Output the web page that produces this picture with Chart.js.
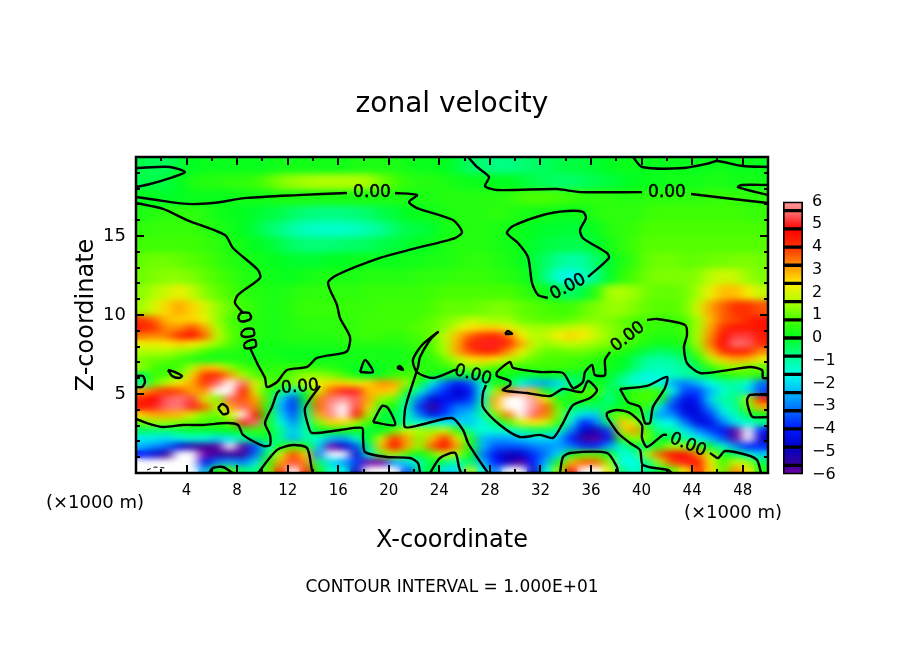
<!DOCTYPE html>
<html><head><meta charset="utf-8">
<style>html,body{margin:0;padding:0;background:#fff;width:904px;height:654px;overflow:hidden}
canvas{position:absolute}</style>
<script src="https://cdn.jsdelivr.net/npm/chart.js@4"></script></head>
<body>
<svg width="0" height="0" style="position:absolute"><filter id="soft" x="0" y="0" width="100%" height="100%" color-interpolation-filters="sRGB"><feGaussianBlur stdDeviation="5.5 3" edgeMode="duplicate"/></filter></svg>
<canvas id="main" width="904" height="654" style="left:0;top:0;width:904px;height:654px"></canvas>
<canvas id="bar" width="80" height="310" style="left:770px;top:183px;width:80px;height:310px"></canvas>
<script>
const FONT='"DejaVu Sans"';
const title='zonal velocity', xTitle='X-coordinate', yTitle='Z-coordinate', note='CONTOUR INTERVAL = 1.000E+01', unit='(×1000 m)';
const xCategories=[...Array(50).keys()];
const xMajor=[4,8,12,16,20,24,28,32,36,40,44,48];
const yMajor=[5,10,15];
const rowTops=[20,19,18,17,16,15,14,13,12,11,10,9.5,9,8.5,8,7.5,7,6.5,6,5.5,5,4.5,4,3.5,3,2.5,2,1.5,1,.5];
const rowBottoms=[19,18,17,16,15,14,13,12,11,10,9.5,9,8.5,8,7.5,7,6.5,6,5.5,5,4.5,4,3.5,3,2.5,2,1.5,1,.5,0];
const r195=[-.3,-.4,-.4,-.2,0,.1,.1,.1,.1,.1, .1,.2,.2,.2,.2,.2,.2,.3,.3,.3, .3,.2,.1,.1,0,-.2,-.5,-.6,-.7,-.7, -.6,-.5,-.4,-.3,-.2,-.2,-.1,0,.1,.1, .1,.1,.1,.1,.1,.1,.2,.1,.1,.1];
const r185=[-.3,-.3,-.2,0,.3,.4,.4,.5,.5,.6, .9,1.2,1.4,1.5,1.6,1.6,1.6,1.6,1.5,1.1, .8,.5,.4,.4,.3,.2,.1,.1,0,0, -.1,-.3,-.4,-.5,-.5,-.4,-.3,-.2,-.1,0, .1,.1,.2,.2,.2,.3,.3,.2,.2,.2];
const r175=[0,0,-.1,0,.1,.1,.1,.1,.2,.2, .2,.3,.3,.3,.3,.3,.3,.3,.3,.3, .3,.3,.3,.3,.4,.4,.4,.4,.4,.5, .7,.8,.8,.7,.6,.5,.5,.5,.4,.4, .5,.5,.5,.5,.5,.6,.6,.6,.5,.5];
const r165=[.3,.4,.5,.5,.5,.4,.2,.1,0,-.1, -.2,-.3,-.5,-.6,-.7,-.7,-.7,-.6,-.5,-.3, -.2,0,.1,.2,.3,.4,.4,.4,.5,.4, .3,.2,.2,.1,.1,.2,.4,.5,.5,.5, .6,.7,.7,.7,.7,.7,.7,.7,.6,.6];
const r155=[.5,.6,.6,.6,.6,.5,.3,.2,0,-.2, -.5,-.7,-1,-1.2,-1.3,-1.3,-1.3,-1.2,-1,-.8, -.5,-.3,-.2,-.1,.2,.3,.4,.4,.3,.2, .1,0,-.1,-.1,-.2,-.1,.1,.4,.5,.6, .8,.8,.8,.8,.8,.8,.8,.8,.8,.8];
const r145=[.7,.7,.7,.7,.7,.6,.5,.3,.2,0, -.1,-.3,-.5,-.6,-.6,-.6,-.5,-.5,-.4,-.3, -.2,-.1,0,.1,.3,.4,.4,.4,.3,.2, .1,-.1,-.2,-.3,-.3,-.3,-.1,.2,.5,.7, .9,.9,.9,.9,.9,.9,.9,.9,.9,.9];
const r135=[1,1.1,1.1,1,.9,.8,.6,.4,.3,.2, .1,0,-.1,-.1,-.1,0,0,.1,.1,.1, .1,.2,.2,.3,.3,.4,.5,.5,.4,.3, .1,-.2,-.5,-.8,-1,-.9,-.5,-.1,.3,.6, 1,1.1,1.1,1,1,1.1,1.1,1.2,1.2,1.1];
const r125=[1.1,1.2,1.3,1.3,1.2,1,.8,.6,.4,.3, .2,.1,.1,.2,.3,.3,.3,.3,.4,.4, .4,.4,.5,.5,.5,.6,.6,.6,.5,.4, .3,-.1,-.7,-1.4,-1.7,-1.2,-.7,-.1,.5,.8, 1.1,1.2,1.2,1.2,1.3,1.7,1.9,1.8,1.4,1.2];
const r115=[1.3,1.6,1.9,2.2,1.8,1.3,1,.8,.5,.4, .3,.3,.4,.5,.5,.5,.5,.5,.6,.6, .6,.6,.6,.7,.8,.8,.8,.8,.8,.8, .6,.4,.1,-.3,-.5,-.2,.5,1.5,1.6,1.4, 1.1,1,1,1.1,1.5,2.2,2.8,2.8,2.3,1.8];
const r105=[1.5,2,2.6,3,2.6,2,1.4,1,.7,.5, .3,.3,.5,.6,.6,.6,.6,.6,.6,.7, .7,.7,.7,.8,1,1,1,1.1,1.2,1.2, 1,.9,.8,.7,.7,1,1.2,1.4,1.4,1.2, 1,.9,.9,1.1,1.9,3,3.6,4,4,3.7];
const r975=[4,3.6,2.8,2.6,2.6,2.2,1.4,.8,.5,.4, .3,.3,.4,.5,.5,.5,.5,.6,.7,.7, .7,.7,.8,1,1.2,1.4,1.8,1.6,1.5,1.5, 1.1,1,.9,.9,1,1.2,1.3,1.2,1,.8, .7,.6,.6,.8,1.5,2.8,3.6,3.8,4.2,4.5];
const r925=[4.3,4,3.2,3.2,3.8,3,1.6,.9,.6,.4, .3,.3,.4,.5,.5,.5,.5,.6,.7,.7, .7,.8,.9,1,1.3,2,2.4,2.6,2.6,2.2, 1.8,1.5,1.5,1.6,1.8,2,1.6,1.3,1.1,.8, .6,.6,.5,.7,1.5,3,4,4.5,4.4,4.5];
const r875=[3.4,3.3,3.4,4.2,4.6,3.6,1.8,1,.6,.4, .3,.3,.4,.4,.4,.4,.5,.6,.7,.6, .5,.6,.8,1,1.8,2.8,3.6,4,4.2,3.6, 2.4,1.6,1.8,2.4,2.6,2.4,1.8,1.4,1.1,.8, .5,.4,.4,.6,1.6,3.2,4.6,5.2,5.2,4.4];
const r825=[2.2,2.2,2.4,2.6,2.4,2,1.4,.9,.5,.3, .2,.2,.3,.3,.3,.3,.4,.4,.4,.4, .4,.5,.7,.9,1.6,3,4.2,5,5,4.2, 3,1.8,1.4,1.6,1.8,1.6,1.4,1.2,.9,.6, .3,.1,.2,.4,1.5,3.4,4.8,5.6,5.4,4.2];
const r775=[1.6,1.6,1.6,1.4,1.2,.8,.4,.4,.3,.2, .2,.1,.1,.1,.1,.1,.2,.2,.2,.2, .2,.3,.4,.8,1.6,3,3.8,4.2,4.2,3.2, 2.2,1.4,1,1,1.1,1.1,.9,.7,.4,.1, -.3,-.5,-.4,-.1,1,2.8,4,4.4,4.2,3.2];
const r725=[1.2,1,1,.7,.3,.2,.2,.3,.3,.2, .3,.2,.1,.1,.1,.2,.2,.3,.3,.3, .2,.3,.3,.5,1,1.8,2.4,2.6,2.4,1.8, 1.4,1,.8,.8,.7,.6,.4,.2,0,-.4, -.9,-1,-.9,-.6,.3,1.6,2.6,3,2.8,2.2];
const r675=[1.4,.8,.5,.7,1.6,2.8,2.6,1.4,.8,.5, .4,.5,.6,.6,.5,.4,.2,0,-.1,.1, .3,.4,.5,.4,.6,.9,1.3,1.2,.8,.6, .5,.6,.7,.7,.6,.5,.3,.2,0,-.5, -1,-1.2,-1.1,-.9,-.4,.5,1.2,1.4,1.2,1];
const r625=[-.4,.6,.8,1.2,2.6,4,4.2,3.2,1.6,.9, .6,.6,1,1.4,1.4,1.2,.8,.2,-.1,.2, .6,.8,.6,.2,-.1,-.3,-.3,-.2,.1,.2, -.1,-.2,0,-.1,-.2,-.2,.1,-.1,-.5,-1.2, -1.7,-1.4,-1.2,-1,-.7,-.3,.3,.6,.7,.5];
const r575=[-.8,1,1.8,2.4,3,4,5.5,7,5.5,2, 1,.8,1.2,1.8,2.2,2.6,2.6,2.2,2.6,3.2, 3,1.4,0,-1.8,-3.2,-4,-3.4,-1.2,.3,-.2, -1.5,-2.4,-2.6,-2,-.8,-.3,.1,-.2,-1,-1.5, -1.4,-1.6,-2.5,-3,-2.4,-1.6,-1,-1,-1.5,-3.2];
const r525=[3,3.6,4,3.8,3,3.2,6.5,7,4.6,2, .5,-.4,-1.8,.2,2,3.6,5,5,2.8,2.8, 2.6,.3,-1.4,-3,-3.8,-4.8,-4.2,-1.6,1.5,3.5, 6,2.8,0,-.8,.3,.9,.9,-.6,0,.6, .8,.6,-1.6,-3.6,-3.6,-2.4,-1.4,-.8,-2,-3.5];
const r475=[4.2,4.8,5.4,5.6,5.2,2,1.2,5.5,3.8,3, .7,-2,-3.6,0,3.4,5.6,6,5.4,3,1.4, 1,-.8,-3,-4.6,-4.2,-4.4,-3.8,-1.2,3,7.5, 8,6,2.5,.3,.3,.7,0,-.8,0,.7, .8,.4,-3,-4.4,-4,-2,-.9,-.8,1.5,4.2];
const r425=[4.4,5,5.5,5.6,5,3.6,1.6,3,5.5,3.4, .4,-2.4,-3.8,-.6,3.6,6,6.6,5.2,2.6,.4, .3,-1.2,-3.8,-5.6,-4,-3,-3,-1,2.8,7, 8,6,3.6,1,-.3,-.6,-.5,-.4,0,.2, .6,-1.8,-3.6,-4.6,-4.4,-2.8,-1.4,-.8,1,3];
const r375=[2.6,3,3,2.8,2,1.2,1,2,7,4.6, .3,-2,-3.4,-.8,3,5.8,6.2,4.6,1.6,-.3, -.2,-1.2,-3,-4.4,-3.6,-2.6,-2.2,-.9,1.2,3.4, 6.2,5.5,3.4,1.2,-1.2,-2,-2.2,.6,1.2,.5, -.6,-2.6,-2.8,-4.2,-4.6,-3.6,-2,-1.2,-.3,.2];
const r325=[1,1.4,1.4,1.2,1,.8,.6,1,5,5.5, .2,-1.5,-2.8,-.9,1.2,2.6,2.6,1.6,.6,0, -.2,-1.2,-1.4,-1.4,-1.6,-2,-2.2,-1.6,-.6,.8, 2,2.4,2,.6,-1.8,-4,-3,-.6,2.8,2, -.4,-1.5,-1.6,-3,-4.4,-4.4,-3,-1.8,-1.5,-.8];
const r275=[-.5,-.6,-.6,-.4,-.2,-.2,-.1,0,.2,.6, .3,-.8,-2.2,-1,0,.2,.2,.1,-.2,0, 1,2,1.6,1.4,2,.6,-1,-1.4,-1.4,-1.4, -.9,-.5,-.5,-1,-3,-4.8,-5.2,-3.6,1.8,3.2, .9,-.8,-.9,-1.8,-2.8,-3.6,-4.2,-5.8,-8,-4];
const r225=[-1.8,-1.8,-2,-1.6,-1.4,-1.6,-2,-1.8,-1,-.5, -.2,-.9,-2.5,-1,-1.4,-2.4,-2.6,-1.4,0,2, 4,3,1.2,2.8,4,2.2,.4,-2.4,-2.6,-2.6, -2.2,-2,-2,-2.4,-4,-5.6,-5.8,-4.2,.6,1.4, 1,-.2,-.3,-.9,-1.6,-2.4,-3.4,-5.8,-8,-5];
const r175b=[-2.4,-2.8,-3.2,-4.6,-5.4,-5.6,-5.8,-8,-5.8,-3.6, -1.4,.2,1,.3,-2,-6,-5,-3.4,-.6,2.8, 4.8,3,1.4,3.6,4.8,3,.2,-2.4,-3.4,-3.4, -3.4,-3,-2.8,-2.6,-3,-3.8,-3.8,-2.6,-1.2,-.3, -.6,.6,1.6,1.4,.6,-.2,-1.4,-2.8,-4,-3.8];
const r125b=[-4,-4.6,-5.6,-7,-7,-6,-5.5,-5.6,-5.6,-3.2, -.4,2,3.8,2.6,-3,-8,-7,-4.8,-1.6,1, 1.8,.8,0,1,2,1.4,.2,-3,-4.2,-5, -4.8,-3.8,-3,-2,.2,1,1,.2,-1.5,-1.2, 1.6,3.6,4.6,4.6,3.4,1.8,.3,-.4,-1.4,-2.2];
const r075=[-8,-8,-8,-8,-7,-4.4,-3,-2.6,-3,-2, .5,3,5.2,3.2,-.6,-2,-2.6,-3.6,-6,-6, -2.6,-2,-1.2,0,-.6,-1.2,-.4,-2.4,-4,-5, -5.8,-4,-2.4,.2,2.8,3.6,3.6,1.4,-1.6,-1.6, -.8,1.6,3.8,5,4.6,2.4,.6,2,1.4,-.4];
const r025=[-8,-8,-8,-8,-7,-2.6,.4,1,-.6,-.8, 1,4,7.5,4,.3,-1.4,-1.6,-5,-8,-8, -8,-3.4,-.8,0,-2,-2,1.8,-1.6,-3,-6.5, -8,-4.8,-1.6,1.4,4.4,8,7,2.2,-.8,-1.4, -.8,-.2,1,2.4,4,2.6,1,3.2,2.4,.3];
const fieldRows=[r195,r185,r175,r165,r155,r145,r135,r125,r115,r105,r975,r925,r875,r825,r775,r725,r675,r625,r575,r525,r475,r425,r375,r325,r275,r225,r175b,r125b,r075,r025];

const rampValues=[-6,-5.6,-4.8,-4,-3.2,-2.4,-1.6,-.8,0,.8,1.6,2.4,3.2,4,4.8,5.6,6];
const rampColors=['#7800a8','#3a0098','#0000c8','#0018ff','#0068ff','#00b8ff','#00ffe8','#00ff90','#00ff20','#48ff00','#b0ff00','#ffec00','#ff9000','#ff3000','#ff0000','#ff7878','#ff9a9a'];
const barEdges=[-6,-5.6,-4.8,-4,-3.2,-2.4,-1.6,-.8,0,.8,1.6,2.4,3.2,4,4.8,5.6,6];

const contours=[
 [[0,17.09],[2.14,16.71],[4.03,16.01],[7.04,15.06],[7.67,14.24],[9.65,12.85],[9.81,12.34],[8.07,11.27],[7.83,10.76],[8.47,10.13]],
 [[8.07,9.87],[8.31,10.13],[8.94,10.13],[9.1,9.81],[8.7,9.62],[8.23,9.62],[8.07,9.87]],
 [[8.31,8.86],[8.63,9.11],[9.26,9.11],[9.34,8.73],[8.78,8.61],[8.39,8.67],[8.31,8.86]],
 [[8.54,8.16],[8.86,8.35],[9.41,8.42],[9.49,8.04],[9.1,7.91],[8.62,7.91],[8.54,8.16]],
 [[9.02,7.91],[9.65,6.84],[10.21,6.01],[10.36,5.44],[11.16,5.76],[11.95,6.52],[13.53,6.71],[14.32,7.28],[16.38,7.59],[16.77,7.78],[16.93,8.61],[16.14,9.81],[15.9,10.63],[15.19,12.03],[15.9,12.53],[19.3,13.61],[21.91,14.18],[25.24,14.87],[25.79,15.25],[25.08,16.01],[22.23,16.77],[21.6,17.15],[22.23,17.59],[20.49,17.72]],
 [[16.69,17.72],[12.74,17.59],[8.78,17.41],[6.09,17.09],[4.03,17.03],[1.66,17.28],[0,17.47]],
 [[0,19.3],[2.69,19.37],[3.88,19.05],[2.93,18.73],[1.11,18.29],[0,18.1]],
 [[26.27,20],[26.98,19.37],[27.93,18.73],[27.61,18.16],[28.56,17.91],[33.31,17.97],[35.13,17.78],[40.03,17.78]],
 [[43.91,17.66],[47.23,17.34],[50,17.09]],
 [[39.32,20],[40.03,19.37],[43.28,19.3],[45.41,19.62],[45.96,19.75],[48.02,19.43],[50,19.37]],
 [[50,18.23],[47.94,18.23],[47.63,18.1],[50,17.59]],
 [[32.59,11.08],[31.8,11.27],[31.33,12.03],[31.01,13.67],[30.22,14.56],[29.35,15.19],[29.83,15.63],[32.2,16.33],[34.1,16.58],[35.36,16.52],[35.6,16.14],[35.13,15.38],[35.36,14.87],[37.26,13.92],[37.42,13.61],[35.76,12.41]],
 [[27.85,0],[26.98,1.01],[26.27,1.9],[25.87,2.72],[25,3.48],[22.47,3.04],[21.28,2.91],[21.28,3.99],[21.52,4.75],[22.31,6.71],[22.47,7.34],[23.26,8.42],[23.89,8.92],[22.63,8.1],[21.91,7.15],[22.23,6.39],[23.5,6.01],[25.24,6.52],[25.47,6.58]],
 [[27.69,5.57],[27.45,5.06],[27.45,4.18],[28.8,3.04],[30.38,2.28],[31.96,2.41],[32.99,2.22],[33.7,3.04],[34.57,4.3],[35.92,4.75],[36.47,5.25],[35.76,5.82],[35.28,5.13],[33.78,5.32],[32.75,4.87],[30.93,5.06],[29.03,5.25],[29.59,5.57],[29.59,5.82],[28.56,6.14],[28.56,6.39],[29.59,7.03],[29.83,6.65],[31.96,6.39],[33.78,6.33],[34.57,5.38],[35.36,5.76],[35.52,6.39],[36.08,6.84],[36.31,6.2],[37.1,6.2],[37.1,7.15],[37.5,7.66]],
 [[40.43,9.68],[41.22,9.75],[43.43,9.37],[43.59,8.73],[43.35,7.97],[43.59,6.96],[44.62,6.33],[46.44,6.46],[48.58,6.71],[49.53,6.52],[49.6,6.01],[50,6.01]],
 [[38.29,5.32],[40.43,5.51],[42.01,6.08],[41.85,5.38],[40.9,4.18],[40.66,3.16],[40.27,3.16],[39.87,4.18],[38.92,4.49],[38.29,5.32]],
 [[37.26,3.54],[37.26,3.8],[38.05,3.99],[39.08,3.8],[40.03,3.04],[40.03,2.22],[40.43,1.65],[41.69,2.41],[42.01,2.41]],
 [[45.41,1.27],[46.04,.95],[46.6,1.39],[48.34,1.14],[49.13,.82],[49.45,0]],
 [[37.26,3.54],[38.13,2.53],[39.08,1.9],[39.87,1.46],[40.11,.51],[42.09,.19],[42.4,0]],
 [[33.54,0],[33.78,1.01],[34.34,1.27],[37.26,1.27],[38.05,.38],[38.13,0]],
 [[50,4.94],[48.58,4.94],[48.34,4.62],[48.58,3.8],[48.81,3.54],[50,3.54]],
 [[0,6.14],[.55,6.14],[.71,5.76],[.47,5.44],[0,5.44]],
 [[2.53,6.52],[3.09,6.39],[3.64,6.14],[3.4,6.01],[2.85,6.14],[2.53,6.52]],
 [[6.49,4.11],[6.8,4.37],[7.2,4.18],[7.28,3.8],[6.88,3.73],[6.49,4.11]],
 [[0,3.42],[.87,3.16],[2.14,2.91],[3.72,3.04],[5.3,3.04],[7.2,3.16],[8.07,3.04],[8.47,2.41],[10.05,1.71],[10.6,1.77],[10.6,2.41],[10.21,3.16],[10.76,4.18],[11.16,5.06],[11.39,5.25]],
 [[14.56,5.51],[13.37,4.11],[13.61,3.04],[13.92,2.53],[16.14,2.72],[17.88,2.85],[17.96,2.22],[18.12,1.33],[19.86,1.01],[21.68,.95],[22.31,.63],[22.47,0]],
 [[9.65,0],[11.16,1.46],[12.42,1.77],[13.53,1.58],[13.92,.19],[14,0]],
 [[5.78,0],[6.09,.32],[6.88,.38],[7.67,0]],
 [[17.72,6.39],[18.12,7.15],[18.75,6.39],[17.72,6.39]],
 [[20.65,6.65],[20.89,6.77],[21.12,6.52],[20.65,6.65]],
 [[18.75,3.23],[19.46,4.24],[19.94,4.11],[20.49,3.04],[18.75,3.23]],
 [[29.19,8.8],[29.43,8.99],[29.75,8.8],[29.19,8.8]],
 [[23.26,0],[24.05,.95],[25.24,1.27],[25.55,.38],[25.71,0]]
];
const negContours=[[[.87,.19],[1.5,.38],[2.29,.32]]];
const labelText='0.00';
const labelX=[18.67,42.01,34.18,12.97,26.66,38.92,43.67];
const labelZ=[17.72,17.72,11.77,5.44,6.2,8.61,1.77];
const labelAngle=[0,0,-28,-5,15,-38,22];

function hex(c){return [1,3,5].map(i=>parseInt(c.slice(i,i+2),16));}
function colorFor(v){
  if(v>6||v<-6) return '#ffffff';
  for(let i=1;i<rampValues.length;i++){
    if(v<=rampValues[i]){
      const t=(v-rampValues[i-1])/(rampValues[i]-rampValues[i-1]);
      const a=hex(rampColors[i-1]),b=hex(rampColors[i]);
      return 'rgb('+a.map((p,k)=>Math.round(p+(b[k]-p)*t)).join(',')+')';
    }
  }
  return '#ffffff';
}
const barSets=fieldRows.map((row,i)=>({type:'bar',xAxisID:'x',yAxisID:'y',order:2,grouped:false,
  data:row.map(()=>[rowBottoms[i],rowTops[i]]),backgroundColor:row.map(colorFor),
  barPercentage:1,categoryPercentage:1,borderWidth:0,inflateAmount:1}));
const lineSets=contours.map(c=>({type:'line',xAxisID:'xt',yAxisID:'y',order:1,data:c.map(p=>({x:p[0],y:p[1]})),
  borderColor:'#000',borderWidth:2.4,pointRadius:0,tension:.25,fill:false}));
const negSets=negContours.map(c=>({type:'line',xAxisID:'xt',yAxisID:'y',order:1,data:c.map(p=>({x:p[0],y:p[1]})),
  borderColor:'#000',borderWidth:1,borderDash:[4,3],pointRadius:0,fill:false}));

const fieldPlugin={id:'field',
  afterDatasetDraw(chart,args){
    if(args.index!==0) return;
    const a=chart.chartArea,c=chart.ctx,w=a.right-a.left,h=a.bottom-a.top;
    c.save();c.beginPath();c.rect(a.left,a.top,w,h);c.clip();
    c.filter='url(#soft)';
    c.drawImage(chart.canvas,a.left,a.top,w,h,a.left,a.top,w,h);
    c.filter='none';c.restore();
  },
  afterDraw(chart){
    const a=chart.chartArea,c=chart.ctx,xs=chart.scales.xt,ys=chart.scales.y;
    c.save();c.fillStyle='#000';c.strokeStyle='#000';
    labelX.forEach((x,i)=>{
      c.save();c.translate(xs.getPixelForValue(x),ys.getPixelForValue(labelZ[i]));
      c.rotate(labelAngle[i]*Math.PI/180);
      c.font='17px '+FONT;c.textAlign='center';c.textBaseline='middle';c.lineWidth=.5;
      c.fillText(labelText,0,0);c.strokeText(labelText,0,0);c.restore();
    });
    c.lineWidth=2;c.beginPath();
    for(let v=2;v<50;v+=2){
      const L=v%4===0?8:4,p=Math.round(xs.getPixelForValue(v));
      c.moveTo(p,a.top);c.lineTo(p,a.top+L);c.moveTo(p,a.bottom);c.lineTo(p,a.bottom-L);
    }
    for(let v=1;v<20;v++){
      const L=v%5===0?8:4,p=Math.round(ys.getPixelForValue(v));
      c.moveTo(a.left,p);c.lineTo(a.left+L,p);c.moveTo(a.right,p);c.lineTo(a.right-L,p);
    }
    c.stroke();
    c.lineWidth=2.5;c.strokeRect(a.left,a.top,a.right-a.left,a.bottom-a.top);
    c.font='18px '+FONT;c.textAlign='center';c.textBaseline='middle';
    c.fillText(unit,95,503);c.fillText(unit,733,513);
    c.restore();
  }};

new Chart(document.getElementById('main'),{
  data:{labels:xCategories,datasets:[...barSets,...lineSets,...negSets]},
  plugins:[fieldPlugin],
  options:{responsive:false,animation:false,devicePixelRatio:1,
    layout:{padding:0},
    plugins:{legend:{display:false},tooltip:{enabled:false},
      title:{display:true,text:title,color:'#000',font:{family:FONT,size:28,weight:'normal'},padding:{top:88,bottom:35.4}},
      subtitle:{display:true,position:'bottom',text:note,color:'#000',font:{family:FONT,size:17,weight:'normal'},padding:{top:4,bottom:55.8}}},
    scales:{
      x:{type:'category',display:false,offset:true},
      xt:{type:'linear',position:'bottom',min:0,max:50,
        afterFit(s){s.height=100.8;},
        afterBuildTicks(s){s.ticks=xMajor.map(v=>({value:v}));},
        grid:{display:false,drawTicks:false},border:{display:false},
        ticks:{autoSkip:false,maxRotation:0,padding:9,color:'#000',font:{family:FONT,size:15},
          callback:v=>String(v)},
        title:{display:true,text:xTitle,color:'#000',font:{family:FONT,size:24},padding:{top:0,bottom:18.4}}},
      y:{type:'linear',position:'left',min:0,max:20,
        afterFit(s){s.width=136;},
        grid:{display:false,drawTicks:false},border:{display:false},
        ticks:{stepSize:5,padding:10,color:'#000',font:{family:FONT,size:18},
          callback:v=>yMajor.includes(v)?String(v):''},
        title:{display:true,text:yTitle,color:'#000',font:{family:FONT,size:24},padding:{top:72,bottom:0}}},
      yr:{type:'linear',position:'right',min:0,max:20,
        afterFit(s){s.width=136;},
        grid:{display:false,drawTicks:false},border:{display:false},
        ticks:{display:false}}
    }}
});

const ticksBar=[-6,-5,-4,-3,-2,-1,0,1,2,3,4,5,6];
const segSets=barEdges.slice(1).map((hi,i)=>({
  data:[[barEdges[i],hi]],grouped:false,barPercentage:1,categoryPercentage:1,borderWidth:2,borderColor:'#000',borderSkipped:false,
  backgroundColor(ctx){
    const s=ctx.chart.scales.y;
    const y0=s?s.getPixelForValue(barEdges[i]):NaN,y1=s?s.getPixelForValue(hi):NaN;
    if(!Number.isFinite(y0)||!Number.isFinite(y1)) return rampColors[i];
    const g=ctx.chart.ctx.createLinearGradient(0,y0,0,y1);
    g.addColorStop(0,rampColors[i]);g.addColorStop(1,rampColors[i+1]);
    return g;
  }}));
new Chart(document.getElementById('bar'),{type:'bar',
  data:{labels:['v'],datasets:segSets},
  options:{responsive:false,animation:false,devicePixelRatio:1,
    layout:{padding:{left:13,right:0,top:5,bottom:5}},
    plugins:{legend:{display:false},tooltip:{enabled:false}},
    scales:{
      x:{display:false,offset:true},
      y:{type:'linear',position:'right',min:-6,max:6,
        afterFit(s){s.width=47;},
        grid:{display:false,drawTicks:false},border:{display:false},
        ticks:{stepSize:1,padding:9,color:'#000',font:{family:FONT,size:16},
          callback:v=>ticksBar.includes(v)?String(v).replace('-','−'):''}}
    }}
});
</script></body></html>
